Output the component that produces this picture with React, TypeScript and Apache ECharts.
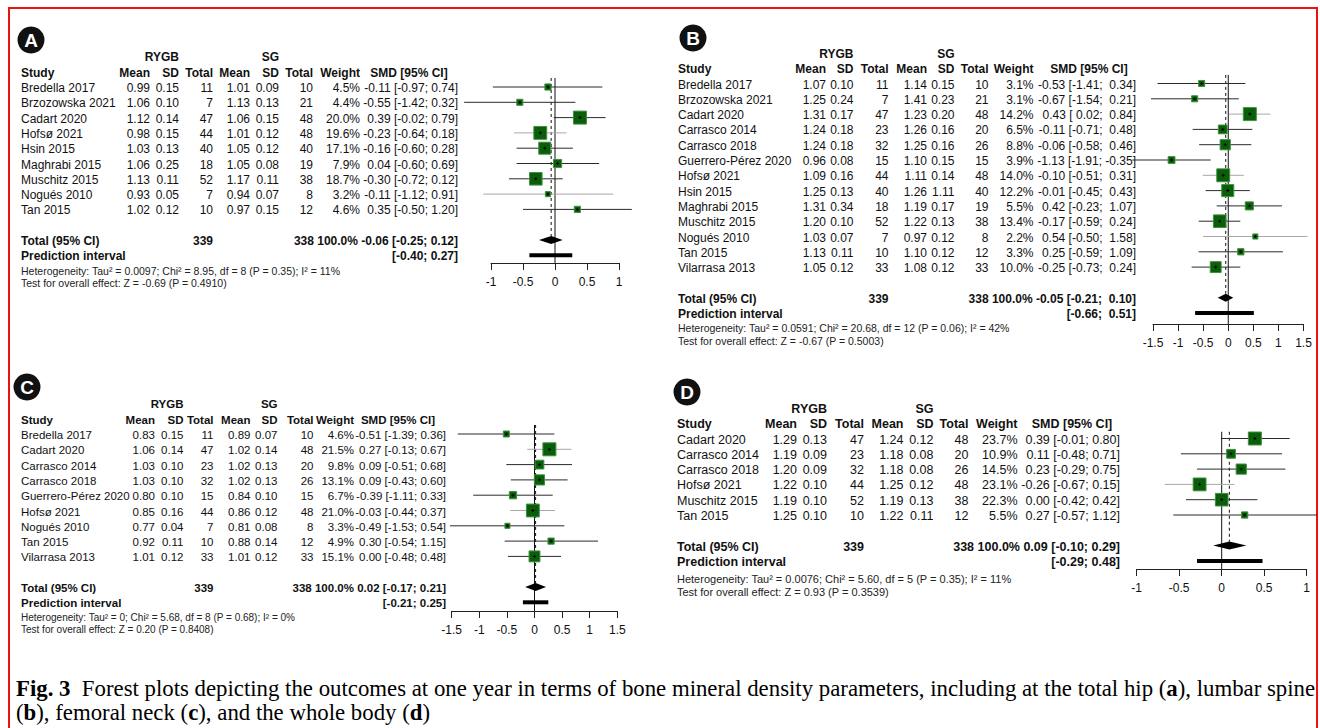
import React, { useEffect, useRef } from "react";
import * as echarts from "echarts";

// ---------------- Panel A : total hip ----------------
const studiesA = ["Bredella 2017", "Brzozowska 2021", "Cadart 2020", "Hofsø 2021", "Hsin 2015", "Maghrabi 2015", "Muschitz 2015", "Nogués 2010", "Tan 2015"];
const rygbMeanA = [0.99, 1.06, 1.12, 0.98, 1.03, 1.06, 1.13, 0.93, 1.02];
const rygbSdA = [0.15, 0.10, 0.14, 0.15, 0.13, 0.25, 0.11, 0.05, 0.12];
const rygbNA = [11, 7, 47, 44, 40, 18, 52, 7, 10];
const sgMeanA = [1.01, 1.13, 1.06, 1.01, 1.05, 1.05, 1.17, 0.94, 0.97];
const sgSdA = [0.09, 0.13, 0.15, 0.12, 0.12, 0.08, 0.11, 0.07, 0.15];
const sgNA = [10, 21, 48, 48, 40, 19, 38, 8, 12];
const weightA = [4.5, 4.4, 20.0, 19.6, 17.1, 7.9, 18.7, 3.2, 4.6];
const smdA = [-0.11, -0.55, 0.39, -0.23, -0.16, 0.04, -0.30, -0.11, 0.35];
const ciLowA = [-0.97, -1.42, -0.02, -0.64, -0.60, -0.60, -0.72, -1.12, -0.50];
const ciHighA = [0.74, 0.32, 0.79, 0.18, 0.28, 0.69, 0.12, 0.91, 1.20];
const totalsA = [339, 338];
const pooledA = [-0.06, -0.25, 0.12];
const predA = [-0.40, 0.27];
const hetA = "Heterogeneity: Tau² = 0.0097; Chi² = 8.95, df = 8 (P = 0.35); I² = 11%";
const testA = "Test for overall effect: Z = -0.69 (P = 0.4910)";

// ---------------- Panel B : lumbar spine ----------------
const studiesB = ["Bredella 2017", "Brzozowska 2021", "Cadart 2020", "Carrasco 2014", "Carrasco 2018", "Guerrero-Pérez 2020", "Hofsø 2021", "Hsin 2015", "Maghrabi 2015", "Muschitz 2015", "Nogués 2010", "Tan 2015", "Vilarrasa 2013"];
const rygbMeanB = [1.07, 1.25, 1.31, 1.24, 1.24, 0.96, 1.09, 1.25, 1.31, 1.20, 1.03, 1.13, 1.05];
const rygbSdB = [0.10, 0.24, 0.17, 0.18, 0.18, 0.08, 0.16, 0.13, 0.34, 0.10, 0.07, 0.11, 0.12];
const rygbNB = [11, 7, 47, 23, 32, 15, 44, 40, 18, 52, 7, 10, 33];
const sgMeanB = [1.14, 1.41, 1.23, 1.26, 1.25, 1.10, 1.11, 1.26, 1.19, 1.22, 0.97, 1.10, 1.08];
const sgSdB = [0.15, 0.23, 0.20, 0.16, 0.16, 0.15, 0.14, 1.11, 0.17, 0.13, 0.12, 0.12, 0.12];
const sgNB = [10, 21, 48, 20, 26, 15, 48, 40, 19, 38, 8, 12, 33];
const weightB = [3.1, 3.1, 14.2, 6.5, 8.8, 3.9, 14.0, 12.2, 5.5, 13.4, 2.2, 3.3, 10.0];
const smdB = [-0.53, -0.67, 0.43, -0.11, -0.06, -1.13, -0.10, -0.01, 0.42, -0.17, 0.54, 0.25, -0.25];
const ciLowB = [-1.41, -1.54, 0.02, -0.71, -0.58, -1.91, -0.51, -0.45, -0.23, -0.59, -0.50, -0.59, -0.73];
const ciHighB = [0.34, 0.21, 0.84, 0.48, 0.46, -0.35, 0.31, 0.43, 1.07, 0.24, 1.58, 1.09, 0.24];
const totalsB = [339, 338];
const pooledB = [-0.05, -0.21, 0.10];
const predB = [-0.66, 0.51];
const hetB = "Heterogeneity: Tau² = 0.0591; Chi² = 20.68, df = 12 (P = 0.06); I² = 42%";
const testB = "Test for overall effect: Z = -0.67 (P = 0.5003)";

// ---------------- Panel C : femoral neck ----------------
const studiesC = ["Bredella 2017", "Cadart 2020", "Carrasco 2014", "Carrasco 2018", "Guerrero-Pérez 2020", "Hofsø 2021", "Nogués 2010", "Tan 2015", "Vilarrasa 2013"];
const rygbMeanC = [0.83, 1.06, 1.03, 1.03, 0.80, 0.85, 0.77, 0.92, 1.01];
const rygbSdC = [0.15, 0.14, 0.10, 0.10, 0.10, 0.16, 0.04, 0.11, 0.12];
const rygbNC = [11, 47, 23, 32, 15, 44, 7, 10, 33];
const sgMeanC = [0.89, 1.02, 1.02, 1.02, 0.84, 0.86, 0.81, 0.88, 1.01];
const sgSdC = [0.07, 0.14, 0.13, 0.13, 0.10, 0.12, 0.08, 0.14, 0.12];
const sgNC = [10, 48, 20, 26, 15, 48, 8, 12, 33];
const weightC = [4.6, 21.5, 9.8, 13.1, 6.7, 21.0, 3.3, 4.9, 15.1];
const smdC = [-0.51, 0.27, 0.09, 0.09, -0.39, -0.03, -0.49, 0.30, 0.00];
const ciLowC = [-1.39, -0.13, -0.51, -0.43, -1.11, -0.44, -1.53, -0.54, -0.48];
const ciHighC = [0.36, 0.67, 0.68, 0.60, 0.33, 0.37, 0.54, 1.15, 0.48];
const totalsC = [339, 338];
const pooledC = [0.02, -0.17, 0.21];
const predC = [-0.21, 0.25];
const hetC = "Heterogeneity: Tau² = 0; Chi² = 5.68, df = 8 (P = 0.68); I² = 0%";
const testC = "Test for overall effect: Z = 0.20 (P = 0.8408)";

// ---------------- Panel D : whole body ----------------
const studiesD = ["Cadart 2020", "Carrasco 2014", "Carrasco 2018", "Hofsø 2021", "Muschitz 2015", "Tan 2015"];
const rygbMeanD = [1.29, 1.19, 1.20, 1.22, 1.19, 1.25];
const rygbSdD = [0.13, 0.09, 0.09, 0.10, 0.10, 0.10];
const rygbND = [47, 23, 32, 44, 52, 10];
const sgMeanD = [1.24, 1.18, 1.18, 1.25, 1.19, 1.22];
const sgSdD = [0.12, 0.08, 0.08, 0.12, 0.13, 0.11];
const sgND = [48, 20, 26, 48, 38, 12];
const weightD = [23.7, 10.9, 14.5, 23.1, 22.3, 5.5];
const smdD = [0.39, 0.11, 0.23, -0.26, 0.00, 0.27];
const ciLowD = [-0.01, -0.48, -0.29, -0.67, -0.42, -0.57];
const ciHighD = [0.80, 0.71, 0.75, 0.15, 0.42, 1.12];
const totalsD = [339, 338];
const pooledD = [0.09, -0.10, 0.29];
const predD = [-0.29, 0.48];
const hetD = "Heterogeneity: Tau² = 0.0076; Chi² = 5.60, df = 5 (P = 0.35); I² = 11%";
const testD = "Test for overall effect: Z = 0.93 (P = 0.3539)";

// ---------------- Caption ----------------
const captionLine1 = "{b|Fig. 3}{n|  Forest plots depicting the outcomes at one year in terms of bone mineral density parameters, including at the total hip (}{b|a}{n|), lumbar spine}";
const captionLine2 = "{n|(}{b|b}{n|), femoral neck (}{b|c}{n|), and the whole body (}{b|d}{n|)}";

// ---------------- Layout and styles (positions / sizes / colours only) ----------------
const SANS = '"Liberation Sans", Arial, Helvetica, sans-serif';
const SERIF = '"Liberation Serif", "Times New Roman", Times, serif';
const CAPTION_SIZE = 22.8;
const LINE_DARK = "#2a2a2a";
const LINE_LIGHT = "#a8a8a8";

type Layout = {
  letter: string; badgeX: number; badgeY: number; studyX: number; cols: number[]; smdHeadX: number;
  row0: number; step: number; yMin: number; yMax: number; xMin: number; xMax: number;
  gridLeft: number; gridWidth: number; hetY: number; testY: number; padCI: boolean; fs: number; hetFs: number;
  lightRows: number[];
};

const layoutA: Layout = { letter: "A", badgeX: 31, badgeY: 40, studyX: 21, cols: [150, 179, 213, 250, 279, 313, 360, 458], smdHeadX: 409, row0: 87, step: 15.3, yMin: -0.59, yMax: 11.5, xMin: -1, xMax: 1, gridLeft: 491, gridWidth: 128, hetY: 270.5, testY: 283, padCI: false, fs: 12, hetFs: 10.5, lightRows: [3, 7] };
const layoutB: Layout = { letter: "B", badgeX: 693, badgeY: 38, studyX: 678, cols: [826, 853.5, 888.5, 927, 954.5, 988.5, 1033.5, 1136], smdHeadX: 1089, row0: 83.5, step: 15.3, yMin: -0.56, yMax: 15.72, xMin: -1.5, xMax: 1.5, gridLeft: 1153, gridWidth: 150.5, hetY: 328, testY: 341, padCI: true, fs: 12, hetFs: 10.5, lightRows: [2, 6, 10] };
const layoutC: Layout = { letter: "C", badgeX: 27, badgeY: 387, studyX: 21, cols: [155, 183.5, 213.5, 250.5, 277.5, 313.5, 354, 446], smdHeadX: 398, row0: 434, step: 15.3, yMin: -0.59, yMax: 11.57, xMin: -1.5, xMax: 1.5, gridLeft: 451.7, gridWidth: 165.6, hetY: 617, testY: 629.5, padCI: false, fs: 11.5, hetFs: 10, lightRows: [1, 5] };
const layoutD: Layout = { letter: "D", badgeX: 687, badgeY: 392, studyX: 677, cols: [797, 827, 864, 903.5, 933.5, 968.5, 1017.5, 1120], smdHeadX: 1072, row0: 438.5, step: 15.3, yMin: -0.44, yMax: 8.53, xMin: -1, xMax: 1, gridLeft: 1136.7, gridWidth: 170, hetY: 579, testY: 592, padCI: false, fs: 12.5, hetFs: 11, lightRows: [3] };

type Panel = {
  studies: string[]; rMean: number[]; rSd: number[]; rN: number[]; sMean: number[]; sSd: number[]; sN: number[];
  weight: number[]; smd: number[]; lo: number[]; hi: number[]; totals: number[]; pooled: number[]; pred: number[];
  het: string; test: string; L: Layout;
};

const panels: Panel[] = [
  { studies: studiesA, rMean: rygbMeanA, rSd: rygbSdA, rN: rygbNA, sMean: sgMeanA, sSd: sgSdA, sN: sgNA, weight: weightA, smd: smdA, lo: ciLowA, hi: ciHighA, totals: totalsA, pooled: pooledA, pred: predA, het: hetA, test: testA, L: layoutA },
  { studies: studiesB, rMean: rygbMeanB, rSd: rygbSdB, rN: rygbNB, sMean: sgMeanB, sSd: sgSdB, sN: sgNB, weight: weightB, smd: smdB, lo: ciLowB, hi: ciHighB, totals: totalsB, pooled: pooledB, pred: predB, het: hetB, test: testB, L: layoutB },
  { studies: studiesC, rMean: rygbMeanC, rSd: rygbSdC, rN: rygbNC, sMean: sgMeanC, sSd: sgSdC, sN: sgNC, weight: weightC, smd: smdC, lo: ciLowC, hi: ciHighC, totals: totalsC, pooled: pooledC, pred: predC, het: hetC, test: testC, L: layoutC },
  { studies: studiesD, rMean: rygbMeanD, rSd: rygbSdD, rN: rygbND, sMean: sgMeanD, sSd: sgSdD, sN: sgND, weight: weightD, smd: smdD, lo: ciLowD, hi: ciHighD, totals: totalsD, pooled: pooledD, pred: predD, het: hetD, test: testD, L: layoutD },
];

const f2 = (v: number) => v.toFixed(2);
const ciText = (lo: number, hi: number, pad: boolean) =>
  pad ? `[${f2(lo).padStart(5, " ")}; ${f2(hi).padStart(5, " ")}]` : `[${f2(lo)}; ${f2(hi)}]`;

function txt(x: number, y: number, text: string, o: { bold?: boolean; align?: string; size?: number; fill?: string; family?: string } = {}) {
  const align = o.align || "left";
  return {
    type: "text",
    x,
    y,
    silent: true,
    style: {
      text,
      fill: o.fill || "#111",
      fontSize: o.size || 12,
      fontFamily: o.family || SANS,
      fontWeight: o.bold ? "bold" : "normal",
      align,
      textAlign: align,
      verticalAlign: "middle",
      textVerticalAlign: "middle",
    },
  };
}

function tableElements(p: Panel): any[] {
  const L = p.L;
  const c = L.cols;
  const fs = L.fs;
  const ty = (i: number) => L.row0 + 1 + i * L.step;
  const els: any[] = [];
  // badge
  els.push({ type: "circle", silent: true, shape: { cx: L.badgeX, cy: L.badgeY, r: 13.5 }, style: { fill: "#111" } });
  els.push({ type: "text", x: L.badgeX, y: L.badgeY + 0.5, silent: true, style: { text: L.letter, fill: "#fff", fontSize: 19, fontWeight: "bold", fontFamily: SANS, align: "center", textAlign: "center", verticalAlign: "middle", textVerticalAlign: "middle" } });
  // group headers
  els.push(txt(c[1], ty(-2), "RYGB", { bold: true, align: "right", size: fs }));
  els.push(txt(c[4], ty(-2), "SG", { bold: true, align: "right", size: fs }));
  // column headers
  els.push(txt(L.studyX, ty(-1), "Study", { bold: true, size: fs }));
  const heads = ["Mean", "SD", "Total", "Mean", "SD", "Total", "Weight"];
  heads.forEach((h, k) => els.push(txt(c[k], ty(-1), h, { bold: true, align: "right", size: fs })));
  els.push(txt(L.smdHeadX, ty(-1), "SMD [95% CI]", { bold: true, align: "center", size: fs }));
  // study rows
  p.studies.forEach((s, i) => {
    const y = ty(i);
    const o = { align: "right", size: fs };
    els.push(txt(L.studyX, y, s, { size: fs }));
    els.push(txt(c[0], y, f2(p.rMean[i]), o));
    els.push(txt(c[1], y, f2(p.rSd[i]), o));
    els.push(txt(c[2], y, String(p.rN[i]), o));
    els.push(txt(c[3], y, f2(p.sMean[i]), o));
    els.push(txt(c[4], y, f2(p.sSd[i]), o));
    els.push(txt(c[5], y, String(p.sN[i]), o));
    els.push(txt(c[6], y, p.weight[i].toFixed(1) + "%", o));
    els.push(txt(c[7], y, f2(p.smd[i]) + " " + ciText(p.lo[i], p.hi[i], L.padCI), o));
  });
  const n = p.studies.length;
  const yt = ty(n + 1);
  const ob = { bold: true, align: "right", size: fs };
  els.push(txt(L.studyX, yt, "Total (95% CI)", { bold: true, size: fs }));
  els.push(txt(c[2], yt, String(p.totals[0]), ob));
  els.push(txt(c[7], yt, `${p.totals[1]} 100.0% ${f2(p.pooled[0])} ${ciText(p.pooled[1], p.pooled[2], L.padCI)}`, ob));
  const yp = ty(n + 2);
  els.push(txt(L.studyX, yp, "Prediction interval", { bold: true, size: fs }));
  els.push(txt(c[7], yp, ciText(p.pred[0], p.pred[1], L.padCI), ob));
  els.push(txt(L.studyX, L.hetY, p.het, { size: L.hetFs, fill: "#222" }));
  els.push(txt(L.studyX, L.testY, p.test, { size: L.hetFs, fill: "#222" }));
  return els;
}

const MAX_SIDE = 13;

function summarySeries(p: Panel, gi: number) {
  const L = p.L;
  const n = p.studies.length;
  return {
    type: "custom",
    xAxisIndex: gi,
    yAxisIndex: gi,
    clip: false,
    silent: true,
    data: [[p.pooled[0], p.pooled[1], p.pooled[2], p.pred[0], p.pred[1]]],
    encode: { x: [0, 1, 2, 3, 4] },
    renderItem: (_params: any, api: any) => {
      const est = api.value(0), lo = api.value(1), hi = api.value(2), pl = api.value(3), ph = api.value(4);
      const top0 = api.coord([0, L.yMin]);
      const bot0 = api.coord([0, L.yMax]);
      const c = api.coord([est, n + 1]);
      const l = api.coord([lo, n + 1]);
      const r = api.coord([hi, n + 1]);
      const p1 = api.coord([pl, n + 2]);
      const p2 = api.coord([ph, n + 2]);
      const h = 4;
      return {
        type: "group",
        children: [
          { type: "line", shape: { x1: top0[0], y1: top0[1], x2: top0[0], y2: bot0[1] }, style: { stroke: "#111", lineWidth: 1 } },
          { type: "line", shape: { x1: c[0], y1: top0[1], x2: c[0], y2: c[1] - h }, style: { stroke: "#111", lineWidth: 1, lineDash: [3, 3] } },
          { type: "polygon", shape: { points: [[l[0], c[1]], [c[0], c[1] - h], [r[0], c[1]], [c[0], c[1] + h]] }, style: { fill: "#000" } },
          { type: "line", shape: { x1: p1[0], y1: p1[1], x2: p2[0], y2: p2[1] }, style: { stroke: "#000", lineWidth: 4 } },
        ],
      };
    },
  };
}

function studySeries(p: Panel, gi: number) {
  const wMax = Math.max(...p.weight);
  const light = p.L.lightRows;
  return {
    type: "custom",
    xAxisIndex: gi,
    yAxisIndex: gi,
    clip: false,
    silent: true,
    data: p.smd.map((v, i) => [v, p.lo[i], p.hi[i], i, p.weight[i]]),
    encode: { x: [0, 1, 2], y: 3 },
    renderItem: (_params: any, api: any) => {
      const est = api.value(0), lo = api.value(1), hi = api.value(2), row = api.value(3), w = api.value(4);
      const c = api.coord([est, row]);
      const a = api.coord([lo, row]);
      const b = api.coord([hi, row]);
      const side = MAX_SIDE * Math.sqrt(w / wMax);
      const stroke = light.indexOf(row) >= 0 ? LINE_LIGHT : LINE_DARK;
      return {
        type: "group",
        children: [
          { type: "line", shape: { x1: a[0], y1: c[1], x2: b[0], y2: c[1] }, style: { stroke, lineWidth: 1 } },
          { type: "rect", shape: { x: c[0] - side / 2, y: c[1] - side / 2, width: side, height: side }, style: { fill: "#0a5e0a", stroke: "#3f913f", lineWidth: 1 } },
          { type: "line", shape: { x1: c[0] - 1.5, y1: c[1], x2: c[0] + 1.5, y2: c[1] }, style: { stroke: "#000", lineWidth: 1 } },
          { type: "line", shape: { x1: c[0], y1: c[1] - 1.5, x2: c[0], y2: c[1] + 1.5 }, style: { stroke: "#000", lineWidth: 1 } },
        ],
      };
    },
  };
}

function buildOption() {
  const grid = panels.map((p) => ({
    left: p.L.gridLeft,
    width: p.L.gridWidth,
    top: p.L.row0 + p.L.yMin * p.L.step,
    height: (p.L.yMax - p.L.yMin) * p.L.step,
    containLabel: false,
    outerBoundsMode: "none",
  }));
  const xAxis = panels.map((p, i) => ({
    type: "value",
    gridIndex: i,
    min: p.L.xMin,
    max: p.L.xMax,
    interval: 0.5,
    axisLine: { show: true, onZero: false, lineStyle: { color: "#222", width: 1 } },
    axisTick: { show: true, length: 7, lineStyle: { color: "#222", width: 1 } },
    axisLabel: { color: "#111", fontSize: 12, fontFamily: SANS, margin: 13, showMinLabel: true, showMaxLabel: true },
    splitLine: { show: false },
  }));
  const yAxis = panels.map((p, i) => ({
    type: "value",
    gridIndex: i,
    inverse: true,
    min: p.L.yMin,
    max: p.L.yMax,
    show: false,
  }));
  const series: any[] = [];
  panels.forEach((p, i) => {
    series.push(summarySeries(p, i));
    series.push(studySeries(p, i));
  });
  const elements: any[] = [
    { type: "rect", silent: true, shape: { x: 9, y: 8, width: 1308, height: 740 }, style: { fill: "none", stroke: "#ee1111", lineWidth: 2 } },
  ];
  panels.forEach((p) => elements.push(...tableElements(p)));
  const rich = {
    b: { fontFamily: SERIF, fontSize: CAPTION_SIZE, fontWeight: "bold", fill: "#000" },
    n: { fontFamily: SERIF, fontSize: CAPTION_SIZE, fontWeight: "normal", fill: "#000" },
  };
  elements.push({ type: "text", x: 16, y: 688, silent: true, style: { text: captionLine1, rich, fontFamily: SERIF, fontSize: CAPTION_SIZE, fill: "#000", align: "left", textAlign: "left", verticalAlign: "middle", textVerticalAlign: "middle" } });
  elements.push({ type: "text", x: 16, y: 712, silent: true, style: { text: captionLine2, rich, fontFamily: SERIF, fontSize: CAPTION_SIZE, fill: "#000", align: "left", textAlign: "left", verticalAlign: "middle", textVerticalAlign: "middle" } });

  return {
    animation: false,
    backgroundColor: "#fff",
    grid,
    xAxis,
    yAxis,
    series,
    graphic: { elements },
  };
}

export default function App() {
  const ref = useRef<HTMLDivElement>(null);
  useEffect(() => {
    if (!ref.current) return;
    const chart = echarts.init(ref.current, null, { renderer: "svg" });
    chart.setOption(buildOption() as any);
    return () => chart.dispose();
  }, []);
  return <div ref={ref} style={{ position: "absolute", left: 0, top: 0, width: 1320, height: 728 }} />;
}
